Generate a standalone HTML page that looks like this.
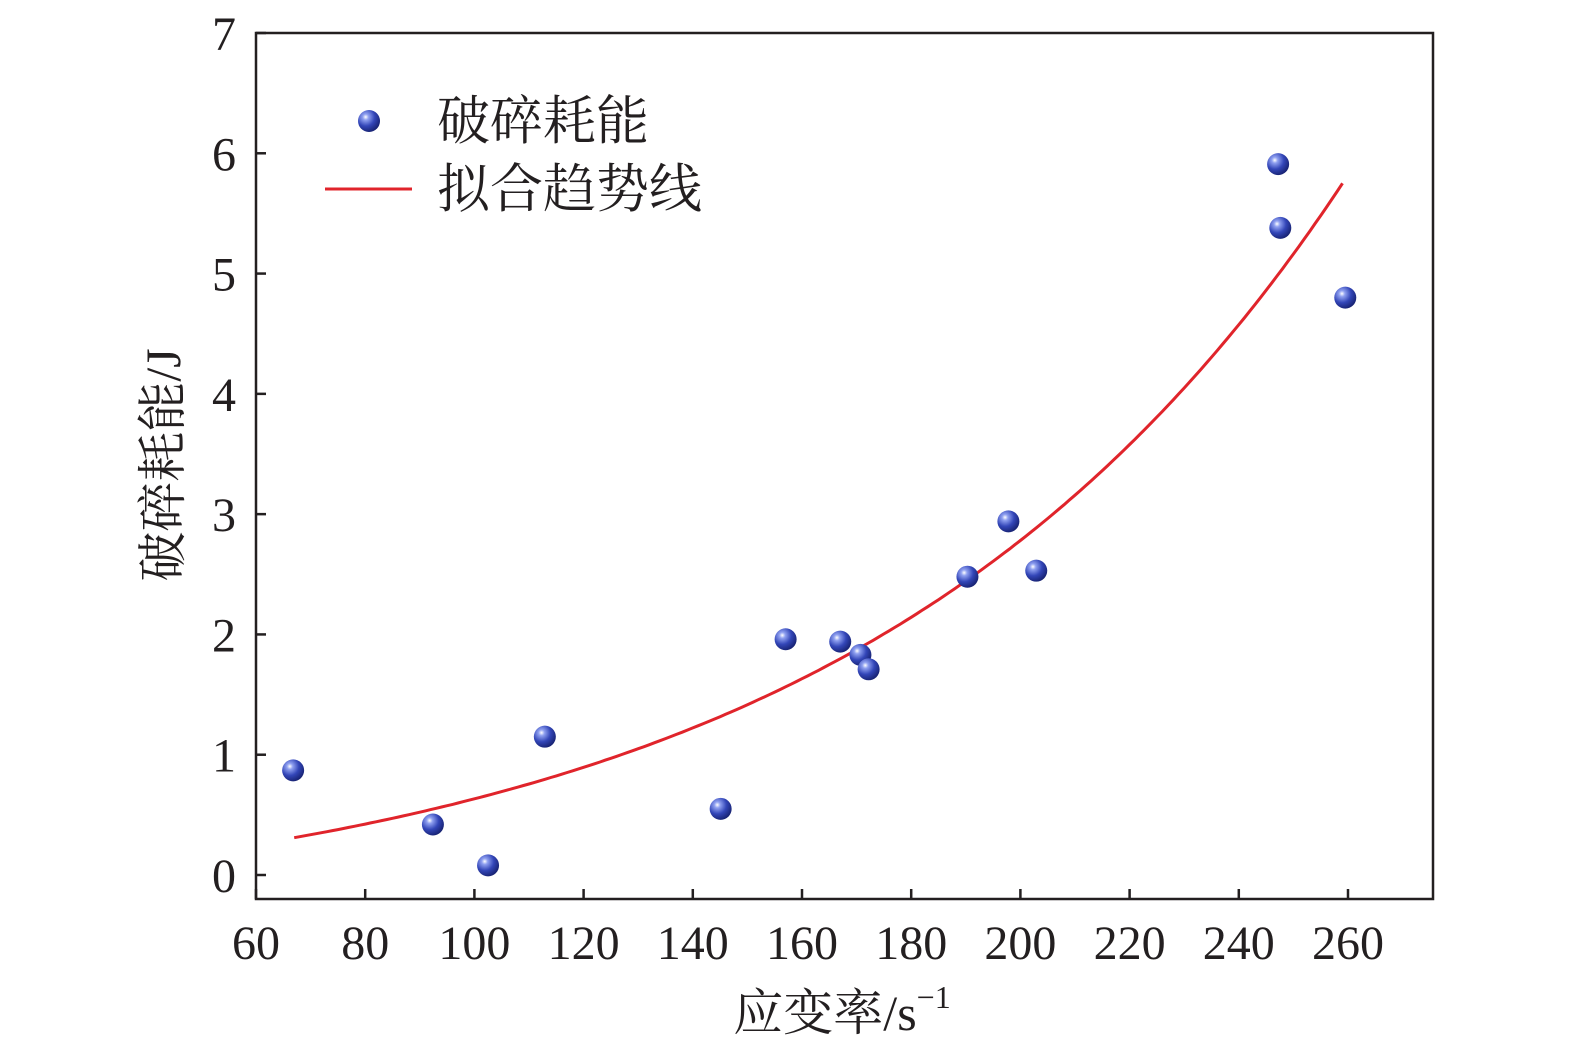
<!DOCTYPE html>
<html><head><meta charset="utf-8"><style>
html,body{margin:0;padding:0;background:#fff}
svg{display:block}
text{font-family:"Liberation Serif","Noto Serif CJK SC",serif;fill:#231f20}
</style></head><body>
<svg id="chart" width="1575" height="1052" viewBox="0 0 1575 1052">
<defs>
<radialGradient id="ball" cx="0.35" cy="0.32" r="0.75">
<stop offset="0" stop-color="#ffffff"/>
<stop offset="0.18" stop-color="#8fa0f0"/>
<stop offset="0.55" stop-color="#3346b8"/>
<stop offset="1" stop-color="#141e6a"/>
</radialGradient>
</defs>
<g id="axes"></g>
<g id="marks"></g>
<g>
<circle cx="369" cy="121" r="11" fill="url(#ball)"/>
<text x="437" y="139" font-size="53">破碎耗能</text>
<line x1="325" y1="189" x2="412" y2="189" stroke="#e0242b" stroke-width="3"/>
<text x="437" y="207" font-size="53">拟合趋势线</text>
</g>
<text x="842" y="1030" font-size="50" text-anchor="middle">应变率/s<tspan font-size="32" dy="-22">−1</tspan></text>
<text transform="translate(180,465) rotate(-90)" font-size="50" text-anchor="middle">破碎耗能/J</text>
</svg>
<script>
const xTicks=[60,80,100,120,140,160,180,200,220,240,260];
const yTicks=[0,1,2,3,4,5,6,7];
const strainRate=[66.8,92.4,102.5,112.9,145.1,157.0,167.0,170.7,172.2,190.3,197.8,202.9,247.2,247.6,259.5];
const energy=[0.87,0.42,0.08,1.15,0.55,1.96,1.94,1.83,1.71,2.48,2.94,2.53,5.91,5.38,4.80];
const fitCoef=[-0.418,0.728,0.01113,67];
const fitRange=[67,259];
const L=256,R=1433,T=33,B=899;
const xs=v=>L+(v-60)*(1348-256)/200;
const ys=v=>875-v*(875-33)/7;
const NS='http://www.w3.org/2000/svg';
const ax=document.getElementById('axes'),mk=document.getElementById('marks');
function el(t,a,p){const e=document.createElementNS(NS,t);for(const k in a)e.setAttribute(k,a[k]);p.appendChild(e);return e;}
const frame=el('rect',{x:L,y:T,width:R-L,height:B-T,fill:'none',stroke:'#231f20','stroke-width':2.5},ax);


xTicks.forEach(v=>{
const t=el('line',{x1:xs(v),x2:xs(v),y1:B,y2:B-10,stroke:'#231f20','stroke-width':2.5},ax);


const l=el('text',{x:xs(v),y:959,'font-size':48,'text-anchor':'middle'},ax);l.textContent=v;


});
yTicks.forEach(v=>{
const t=el('line',{x1:L,x2:L+10,y1:ys(v),y2:ys(v),stroke:'#231f20','stroke-width':2.5},ax);


const l=el('text',{x:236,y:ys(v)+17,'font-size':48,'text-anchor':'end'},ax);l.textContent=v;


});
let d='';
for(let x=fitRange[0];x<=fitRange[1]+0.001;x+=1){
const y=fitCoef[0]+fitCoef[1]*Math.exp(fitCoef[2]*(x-fitCoef[3]));
d+=(d?'L':'M')+xs(x).toFixed(1)+','+ys(y).toFixed(1);
}
const fit=el('path',{d:d,fill:'none',stroke:'#e0242b','stroke-width':3},mk);


strainRate.forEach((x,i)=>{
const c=el('circle',{cx:xs(x),cy:ys(energy[i]),r:11,fill:'url(#ball)'},mk);


});
</script>
</body></html>
